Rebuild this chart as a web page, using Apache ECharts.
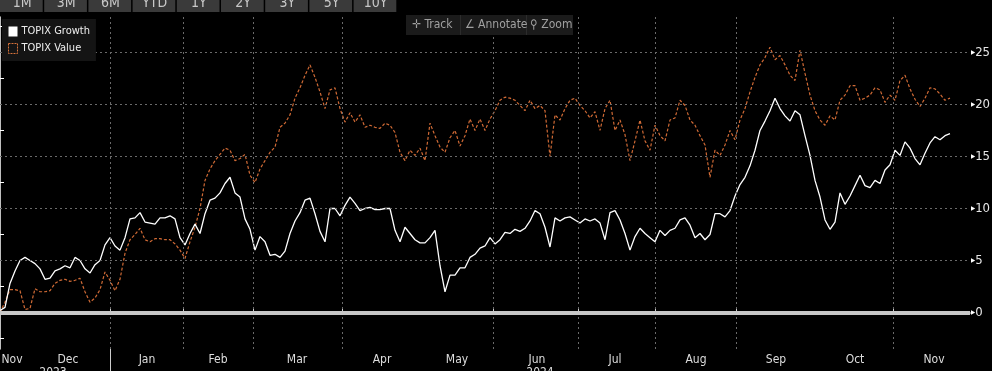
<!DOCTYPE html>
<html><head><meta charset="utf-8">
<script src="https://cdn.jsdelivr.net/npm/echarts@6/dist/echarts.min.js"></script>
<style>html,body{margin:0;padding:0;background:#000;}#c{width:992px;height:371px;}</style>
</head><body><div id="c"></div>
<script>
// sample index step: each index is one sampling step along the time axis
const monthNames = ['Nov','Dec','Jan','Feb','Mar','Apr','May','Jun','Jul','Aug','Sep','Oct','Nov'];
const monthPos = [2.4, 13.6, 29.4, 43.6, 59.4, 76.4, 91.4, 107.4, 123, 139.2, 155.2, 171, 186.8];
const gridPos = [22, 36.6, 50.6, 68.4, 98.6, 115.6, 131, 147.2, 178.6];
const yearNames = ['2023','2024'];
const yearPos = [10.6, 108];
const yLabelVals = [0, 5, 10, 15, 20, 25];
const yMinorVals = [-2.5, 2.5, 7.5, 12.5, 17.5, 22.5, 27.5];
const rangeButtons = ['1M','3M','6M','YTD','1Y','2Y','3Y','5Y','10Y'];

const growth = [
0.2,0.5,2.8,4.0,5.0,5.3,5.0,4.7,4.2,3.2,3.3,4.0,4.2,4.5,4.3,5.3,5.0,4.2,3.8,4.6,
5.0,6.5,7.2,6.4,6.0,7.2,9.0,9.1,9.6,8.7,8.6,8.5,9.1,9.1,9.3,9.0,7.2,6.5,7.6,8.5,
7.6,9.5,10.8,11.0,11.5,12.4,13.0,11.5,11.1,9.0,8.0,6.0,7.3,6.8,5.5,5.6,5.3,5.9,7.6,8.8,
9.6,10.8,11.0,9.5,7.8,6.8,10.0,10.0,9.3,10.3,11.1,10.5,9.8,10.0,10.1,9.9,9.9,10.0,10.0,7.9,
6.8,8.2,7.6,7.0,6.7,6.7,7.2,7.9,4.5,2.0,3.6,3.6,4.3,4.3,5.3,5.6,6.2,6.4,7.2,6.6,
7.0,7.7,7.6,8.0,7.8,8.1,8.8,9.8,9.5,8.2,6.3,9.1,8.8,9.1,9.2,8.9,8.6,9.0,8.8,9.0,
8.6,7.0,9.6,9.8,8.9,7.6,6.0,7.3,8.1,7.6,7.2,6.8,7.9,7.4,7.9,8.1,8.9,9.1,8.4,7.2,
7.6,7.0,7.5,9.5,9.5,9.2,9.8,11.2,12.3,13.0,14.1,15.6,17.5,18.4,19.4,20.6,19.6,18.9,18.4,19.4,
19.0,17.0,15.1,12.7,11.1,8.9,8.0,8.7,11.5,10.4,11.2,12.2,13.2,12.2,12.0,12.7,12.4,13.7,14.2,15.6,
15.1,16.4,15.8,14.8,14.2,15.3,16.3,16.9,16.6,17.0,17.2
];
const value = [
0.0,1.0,2.2,2.2,2.1,0.3,0.4,2.3,2.0,2.0,2.1,2.8,3.1,3.2,3.0,3.1,3.3,2.0,1.0,1.4,
2.2,3.9,3.1,2.1,3.2,5.7,7.0,7.5,8.1,7.0,6.8,7.1,7.1,7.0,7.0,6.6,6.0,5.2,6.8,8.2,
10.0,12.7,13.8,14.6,15.2,15.8,15.6,14.6,14.8,15.2,13.2,12.5,13.8,14.6,15.4,15.9,17.8,18.2,19.0,20.6,
21.6,22.8,23.8,22.6,21.2,19.6,21.4,21.6,19.6,18.3,19.2,18.3,19.0,17.8,18.0,17.8,17.7,18.2,18.0,17.3,
15.4,14.6,15.6,15.1,15.8,14.6,18.2,17.0,15.9,15.4,16.8,17.5,16.0,17.0,18.6,17.5,18.6,17.5,18.6,19.4,
20.4,20.7,20.6,20.4,19.9,19.4,20.4,19.6,19.9,19.4,15.0,19.0,18.5,19.6,20.4,20.6,19.9,19.4,18.7,19.3,
17.5,19.6,20.4,17.5,18.5,17.1,14.6,16.5,18.5,16.5,15.6,18.0,17.0,16.5,18.5,18.7,20.4,19.9,18.5,18.0,
17.0,16.1,13.0,15.6,15.1,16.1,17.5,16.6,18.5,19.6,21.2,22.6,23.8,24.5,25.5,24.3,24.7,23.8,22.8,22.3,
25.2,23.0,20.9,19.4,18.5,18.0,18.9,18.5,20.4,20.9,21.8,21.8,20.4,20.6,20.9,21.6,21.4,20.2,20.9,20.4,
22.3,22.8,21.5,20.5,19.8,20.6,21.6,21.5,21.0,20.4,20.6
];

const FONT = "'Liberation Sans Narrow','DejaVu Sans Condensed','Liberation Sans',sans-serif";
const chart = echarts.init(document.getElementById('c'), null, {renderer:'canvas'});

const buttonGraphics = [];
const bw = 44.2;
rangeButtons.forEach((t, i) => {
  buttonGraphics.push({type:'rect', shape:{x:i*bw, y:0, width:bw-1.5, height:12}, style:{fill:'#3a3a3a'}, z:100});
  buttonGraphics.push({type:'text', x:i*bw + bw/2, y:3, style:{text:t, fill:'#c8c8c8', font:'14px '+FONT, textAlign:'center', textVerticalAlign:'middle'}, z:101});
});

const dashed = {color:'#6a6a6a', width:1, type:[2,3]};

chart.setOption({
  backgroundColor:'#000',
  animation:false,
  textStyle:{fontFamily:FONT},
  grid:{left:0, right:22, top:17, bottom:22, containLabel:false, outerBoundsMode:'none'},
  legend:{
    orient:'vertical', left:2, top:19, backgroundColor:'#141414',
    padding:[7,6,7,6], itemGap:6, itemWidth:9, itemHeight:10,
    textStyle:{color:'#eeeeee', fontSize:11, fontFamily:FONT, padding:[0,0,0,-1]},
    data:[
      {name:'TOPIX Growth', icon:'rect', itemStyle:{color:'#ffffff', borderWidth:0}},
      {name:'TOPIX Value', icon:'rect', itemStyle:{color:'rgba(0,0,0,0)', borderColor:'#d9733a', borderWidth:1, borderType:[2,1]}}
    ],
    z:50
  },
  xAxis:[{
    type:'value', min:0, max:194, position:'bottom',
    axisLine:{show:true, lineStyle:{color:'#ffffff', width:1.5}},
    axisTick:{show:true, inside:true, length:4, customValues:gridPos, lineStyle:{color:'#cccccc'}},
    axisLabel:{show:true, customValues:monthPos, color:'#dddddd', fontSize:12, margin:5,
      formatter:(v)=>{ let k=0, d=1e9; monthPos.forEach((p,i)=>{ if(Math.abs(p-v)<d){d=Math.abs(p-v);k=i;} }); return monthNames[k]; }},
    splitLine:{show:false}
  },{
    type:'value', min:0, max:194, position:'bottom',
    axisLine:{show:false},
    axisTick:{show:true, length:22, customValues:[gridPos[0]], lineStyle:{color:'#cccccc'}},
    axisLabel:{show:true, customValues:yearPos, color:'#dddddd', fontSize:12, margin:18,
      formatter:(v)=>{ return v < 50 ? yearNames[0] : yearNames[1]; }},
    splitLine:{show:false}
  }],
  yAxis:{
    type:'value', position:'right', min:-3.5, max:28.4,
    axisLine:{show:true, lineStyle:{color:'#ffffff', width:1.5}},
    axisTick:{show:true, length:4, customValues:yMinorVals, lineStyle:{color:'#ffffff'}},
    axisLabel:{show:true, customValues:yLabelVals, margin:1,
      formatter:(v)=>'{a|▶}{b|'+v+'}',
      rich:{a:{fontSize:6, color:'#ffffff'}, b:{fontSize:13, color:'#e6e6e6', fontFamily:FONT}}},
    splitLine:{show:false}
  },
  series:[
    {
      name:'grid', type:'line', data:[], silent:true, z:1,
      markLine:{silent:true, symbol:['none','none'], label:{show:false}, animation:false,
        data:[
          ...gridPos.map(p=>({xAxis:p, lineStyle:dashed})),
          ...[5,10,15,20,25].map(v=>({yAxis:v, lineStyle:dashed})),
          {yAxis:0, lineStyle:{color:'#c8c8c8', width:4, type:'solid'}}
        ]}
    },
    {
      name:'TOPIX Value', type:'line', z:3, showSymbol:false, symbol:'none',
      data:value.map((v,i)=>[i,v]),
      lineStyle:{color:'#d06a35', width:1.2, type:[3,2]},
      itemStyle:{color:'#d06a35'}
    },
    {
      name:'TOPIX Growth', type:'line', z:4, showSymbol:false, symbol:'none',
      data:growth.map((v,i)=>[i,v]),
      lineStyle:{color:'#ffffff', width:1.3},
      itemStyle:{color:'#ffffff'}
    }
  ],
  graphic:[
    ...buttonGraphics,
    {type:'rect', shape:{x:406, y:15, width:167, height:20}, style:{fill:'#1b1b1b'}, z:100},
    {type:'rect', shape:{x:460, y:15, width:1, height:20}, style:{fill:'#2c2c2c'}, z:101},
    {type:'rect', shape:{x:526, y:15, width:1, height:20}, style:{fill:'#2c2c2c'}, z:101},
    {type:'text', x:412, y:25, style:{text:'✛ Track', fill:'#a0a0a0', font:'12px '+FONT, textVerticalAlign:'middle'}, z:101},
    {type:'text', x:465, y:25, style:{text:'∠ Annotate', fill:'#a0a0a0', font:'12px '+FONT, textVerticalAlign:'middle'}, z:101},
    {type:'text', x:530, y:25, style:{text:'⚲ Zoom', fill:'#a0a0a0', font:'12px '+FONT, textVerticalAlign:'middle'}, z:101}
  ]
});
</script>
</body></html>
